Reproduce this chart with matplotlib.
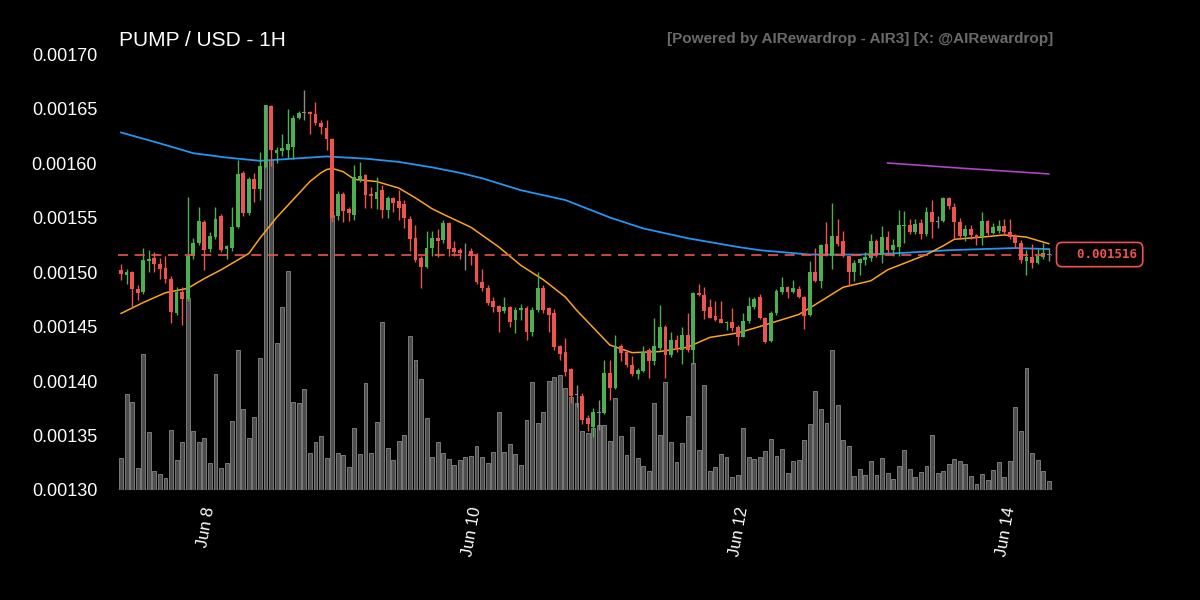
import numpy as np
import pandas as pd
import matplotlib
matplotlib.use("Agg")
import matplotlib.pyplot as plt
import matplotlib.dates as mdates
import matplotlib.transforms as mtransforms

plt.rcParams["font.family"] = ["Liberation Sans", "DejaVu Sans"]

# hourly candles, prices in 1e-6 USD
start = "2025-06-07 08:00"
open_u = [1502, 1497, 1500, 1484, 1482, 1510, 1513, 1507, 1504, 1494,
          1462, 1482, 1475, 1515, 1527, 1546, 1521, 1532, 1551, 1521,
          1522, 1541, 1591, 1554, 1585, 1576, 1596, 1652, 1609, 1611,
          1612, 1615, 1641, 1646, 1647, 1645, 1637, 1632, 1622, 1551,
          1572, 1558, 1552, 1585, 1589, 1572, 1567, 1575, 1557, 1568,
          1565, 1562, 1549, 1531, 1513, 1505, 1522, 1531, 1529, 1545,
          1522, 1520, 1517, 1519, 1516, 1491, 1485, 1473, 1469, 1464,
          1468, 1456, 1465, 1467, 1445, 1465, 1485, 1467, 1462, 1432,
          1427, 1411, 1387, 1386, 1366, 1358, 1371, 1371, 1407, 1394,
          1432, 1427, 1415, 1406, 1409, 1428, 1418, 1430, 1450, 1424,
          1438, 1428, 1442, 1428, 1481, 1479, 1468, 1460, 1457, 1453,
          1454, 1450, 1440, 1455, 1468, 1477, 1458, 1437, 1462, 1482,
          1486, 1482, 1484, 1477, 1461, 1500, 1492, 1526, 1515, 1533,
          1528, 1515, 1500, 1508, 1511, 1513, 1528, 1516, 1532, 1520,
          1523, 1542, 1543, 1537, 1545, 1535, 1555, 1546, 1547, 1568,
          1560, 1546, 1533, 1539, 1534, 1532, 1547, 1536, 1538, 1542,
          1537, 1533, 1527, 1510, 1514, 1508, 1514, 1516]
high_u = [1507, 1503, 1501, 1488, 1522, 1520, 1518, 1513, 1515, 1496,
          1486, 1486, 1569, 1531, 1560, 1548, 1537, 1560, 1553, 1525,
          1560, 1603, 1593, 1587, 1591, 1610, 1653, 1653, 1615, 1627,
          1650, 1644, 1648, 1667, 1648, 1656, 1639, 1639, 1623, 1574,
          1573, 1560, 1598, 1601, 1590, 1578, 1587, 1580, 1570, 1569,
          1575, 1566, 1551, 1543, 1515, 1538, 1538, 1539, 1548, 1546,
          1528, 1522, 1527, 1522, 1517, 1503, 1488, 1477, 1470, 1477,
          1469, 1468, 1471, 1469, 1468, 1500, 1488, 1468, 1466, 1433,
          1439, 1412, 1396, 1389, 1369, 1375, 1383, 1419, 1419, 1442,
          1434, 1428, 1423, 1412, 1432, 1430, 1458, 1470, 1451, 1445,
          1442, 1450, 1462, 1482, 1489, 1486, 1475, 1473, 1473, 1455,
          1467, 1451, 1462, 1477, 1477, 1480, 1459, 1464, 1484, 1495,
          1487, 1493, 1487, 1478, 1510, 1522, 1526, 1546, 1563, 1549,
          1538, 1516, 1511, 1513, 1518, 1535, 1530, 1542, 1538, 1530,
          1557, 1556, 1549, 1549, 1549, 1560, 1566, 1551, 1569, 1569,
          1563, 1550, 1543, 1543, 1535, 1555, 1548, 1545, 1548, 1549,
          1549, 1535, 1529, 1520, 1526, 1521, 1527, 1522]
low_u = [1493, 1489, 1467, 1474, 1480, 1500, 1500, 1494, 1490, 1453,
         1461, 1451, 1473, 1512, 1525, 1502, 1518, 1530, 1518, 1512,
         1519, 1540, 1551, 1552, 1564, 1566, 1595, 1597, 1600, 1606,
         1605, 1604, 1640, 1639, 1627, 1635, 1627, 1612, 1546, 1548,
         1546, 1547, 1548, 1583, 1559, 1559, 1558, 1550, 1550, 1555,
         1548, 1540, 1519, 1509, 1485, 1504, 1515, 1514, 1527, 1515,
         1515, 1512, 1502, 1506, 1489, 1483, 1470, 1463, 1445, 1462,
         1450, 1444, 1456, 1438, 1441, 1463, 1462, 1445, 1428, 1419,
         1405, 1380, 1376, 1361, 1354, 1349, 1355, 1370, 1383, 1393,
         1418, 1413, 1405, 1402, 1408, 1403, 1415, 1428, 1403, 1422,
         1427, 1416, 1427, 1416, 1478, 1457, 1458, 1455, 1453, 1447,
         1446, 1433, 1440, 1453, 1466, 1457, 1435, 1436, 1461, 1480,
         1476, 1481, 1476, 1448, 1460, 1491, 1485, 1515, 1503, 1524,
         1514, 1487, 1492, 1497, 1506, 1510, 1514, 1508, 1516, 1515,
         1515, 1527, 1535, 1535, 1530, 1533, 1531, 1540, 1546, 1558,
         1530, 1530, 1528, 1530, 1525, 1525, 1534, 1535, 1536, 1534,
         1530, 1522, 1508, 1497, 1504, 1507, 1512, 1510]
close_u = [1498, 1500, 1484, 1481, 1511, 1512, 1507, 1503, 1494, 1463,
           1482, 1475, 1515, 1527, 1547, 1520, 1533, 1549, 1520, 1524,
           1541, 1590, 1554, 1585, 1576, 1597, 1653, 1612, 1612, 1614,
           1617, 1641, 1646, 1646, 1645, 1637, 1633, 1622, 1550, 1572,
           1556, 1554, 1587, 1588, 1571, 1570, 1573, 1557, 1568, 1563,
           1559, 1550, 1530, 1511, 1505, 1522, 1531, 1528, 1545, 1521,
           1518, 1517, 1517, 1515, 1491, 1485, 1472, 1468, 1463, 1468,
           1454, 1465, 1467, 1445, 1465, 1485, 1465, 1461, 1431, 1425,
           1408, 1386, 1387, 1364, 1361, 1372, 1371, 1407, 1394, 1432,
           1426, 1415, 1406, 1410, 1427, 1418, 1432, 1450, 1424, 1438,
           1428, 1442, 1428, 1481, 1479, 1464, 1458, 1456, 1453, 1454,
           1449, 1440, 1455, 1469, 1475, 1458, 1436, 1462, 1483, 1486,
           1482, 1485, 1477, 1460, 1500, 1492, 1525, 1515, 1533, 1526,
           1515, 1500, 1508, 1512, 1514, 1528, 1516, 1532, 1520, 1525,
           1543, 1543, 1537, 1544, 1535, 1555, 1546, 1546, 1568, 1561,
           1546, 1533, 1539, 1534, 1531, 1547, 1536, 1541, 1542, 1537,
           1532, 1527, 1511, 1514, 1508, 1515, 1517, 1516]
volume = [32, 96, 88, 22, 136, 58, 19, 16, 12, 60,
          30, 48, 192, 59, 48, 52, 27, 116, 22, 27,
          69, 140, 81, 52, 73, 132, 385, 330, 147, 183,
          219, 88, 87, 101, 37, 48, 54, 32, 275, 37,
          35, 23, 62, 36, 107, 37, 68, 168, 42, 30,
          49, 55, 154, 130, 111, 72, 33, 48, 37, 31,
          25, 30, 33, 34, 44, 33, 27, 38, 78, 38,
          46, 36, 25, 70, 108, 67, 78, 109, 113, 115,
          102, 93, 87, 59, 57, 62, 65, 65, 49, 92,
          54, 35, 63, 32, 24, 19, 87, 55, 108, 48,
          28, 47, 74, 127, 40, 105, 19, 23, 36, 33,
          13, 15, 62, 33, 31, 33, 39, 51, 34, 41,
          17, 29, 30, 50, 66, 99, 81, 67, 140, 85,
          50, 44, 14, 21, 15, 29, 15, 32, 17, 11,
          24, 40, 21, 13, 18, 24, 55, 17, 19, 26,
          31, 29, 26, 14, 6, 16, 10, 20, 28, 13,
          29, 83, 59, 122, 37, 30, 19, 9]

# moving averages read at a few candles (index, value in 1e-6 USD)
ma_fast_idx = [0, 4, 8, 12, 15, 18, 20, 23, 25, 28, 30, 32, 34, 36, 37, 38, 40, 42,
               46, 50, 53, 56, 58, 63, 68, 72, 76, 80, 82, 85, 88, 92, 97, 102, 106,
               111, 115, 122, 124, 130, 135, 138, 142, 145, 148, 150, 155, 159, 163, 167]
ma_fast_val = [1462, 1472, 1481, 1485, 1494, 1502, 1508, 1517, 1531, 1550, 1561, 1572,
               1583, 1591, 1594, 1595, 1592, 1585, 1583, 1577, 1568, 1558, 1553, 1541,
               1523, 1506, 1493, 1477, 1465, 1449, 1433, 1426, 1427, 1431, 1440, 1444,
               1450, 1461, 1467, 1486, 1492, 1502, 1510, 1516, 1524, 1530, 1532, 1534,
               1532, 1526]
ma_slow_idx = [0, 7, 13, 19, 25, 31, 37, 44, 50, 56, 61, 65, 72, 80, 84, 88, 94, 102,
               111, 115, 124, 133, 139, 149, 161, 167]
ma_slow_val = [1628, 1618, 1609, 1605, 1602, 1604, 1606, 1604, 1601, 1596, 1591, 1586,
               1575, 1566, 1558, 1550, 1540, 1531, 1523, 1520, 1516, 1516, 1517, 1520,
               1522, 1521]
ma_long_idx = [138, 152, 167]
ma_long_val = [1600, 1595, 1590]

last_price = 0.001516
tick_days = ["2025-06-08", "2025-06-10", "2025-06-12", "2025-06-14"]
tick_labels = ["Jun 8", "Jun 10", "Jun 12", "Jun 14"]

GREEN = "#4caf50"
RED = "#ef5350"


def plot(fname):
    o = np.array(open_u) * 1e-6
    h = np.array(high_u) * 1e-6
    l = np.array(low_u) * 1e-6
    c = np.array(close_u) * 1e-6
    dates = pd.date_range(start, periods=len(o), freq="h")
    xd = mdates.date2num(dates)
    hour = 1.0 / 24

    fig = plt.figure(figsize=(12, 6), dpi=100, facecolor="black")
    ax = fig.add_axes([118 / 1200, 110 / 600, 934 / 1200, 436 / 600])
    axv = ax.twinx()
    ax.set_zorder(axv.get_zorder() + 1)
    ax.patch.set_visible(False)
    axv.set_facecolor("black")

    # volume underneath
    axv.bar(xd, volume, width=0.7 * hour, color="#4d4d4d",
            edgecolor="#7a7a7a", linewidth=0.7)
    axv.set_ylim(0, max(volume) * 1.133)
    axv.set_yticks([])

    cols = np.where(c > o, GREEN, np.where(c < o, RED, "#8a8a8a"))
    ax.vlines(xd, l, h, colors=cols, linewidth=1.0, zorder=3)
    body = np.maximum(np.abs(c - o), 0.8e-6)
    ax.bar(xd, body, bottom=np.minimum(o, c), width=0.68 * hour,
           color=cols, linewidth=0, zorder=4)

    ax.plot(xd[ma_slow_idx], np.array(ma_slow_val) * 1e-6, color="#2196f3", lw=1.3, zorder=2)
    ax.plot(xd[ma_fast_idx], np.array(ma_fast_val) * 1e-6, color="#ffa31a", lw=1.1, zorder=2)
    ax.plot(xd[ma_long_idx], np.array(ma_long_val) * 1e-6, color="#b044c8", lw=1.2, zorder=2)

    ax.axhline(last_price, color=RED, lw=1.2, ls=(0, (6, 4)), zorder=5)
    trans = mtransforms.blended_transform_factory(ax.transAxes, ax.transData)
    ax.text(1.051, last_price, "  %.6f" % last_price, transform=trans,
            ha="center", va="center", color=RED, fontsize=9, fontweight="bold",
            family="DejaVu Sans Mono", clip_on=False,
            bbox=dict(boxstyle="round,pad=0.45", fc="black", ec=RED, lw=1.2))

    ax.set_xlim(xd[0] - 0.55 * hour, xd[-1] + 0.6 * hour)
    ax.set_ylim(0.00130, 0.00170)
    ax.set_yticks(np.arange(0.00130, 0.001701, 0.00005))
    ax.yaxis.set_major_formatter(plt.FuncFormatter(lambda v, p: "%.5f" % v))
    ax.set_xticks(mdates.date2num(pd.to_datetime(tick_days)))
    ax.set_xticklabels(tick_labels, rotation=80, ha="right", va="center",
                       rotation_mode="anchor")
    ax.tick_params(axis="y", colors="white", labelsize=13, length=0, pad=15)
    ax.tick_params(axis="x", colors="white", labelsize=12, length=0, pad=12)
    for a in (ax, axv):
        for s in a.spines.values():
            s.set_visible(False)

    fig.text(119 / 1200, 1 - 40 / 600, "PUMP / USD - 1H", fontsize=15,
             color="white", va="center")
    fig.text(1053 / 1200, 1 - 39 / 600,
             "[Powered by AIRewardrop - AIR3] [X: @AIRewardrop]",
             ha="right", va="center", fontsize=11, fontweight="bold", color="#6a6a6a")

    fig.savefig(fname, dpi=100, facecolor="black")
    plt.close(fig)


if __name__ == "__main__":
    plot("out.png")
